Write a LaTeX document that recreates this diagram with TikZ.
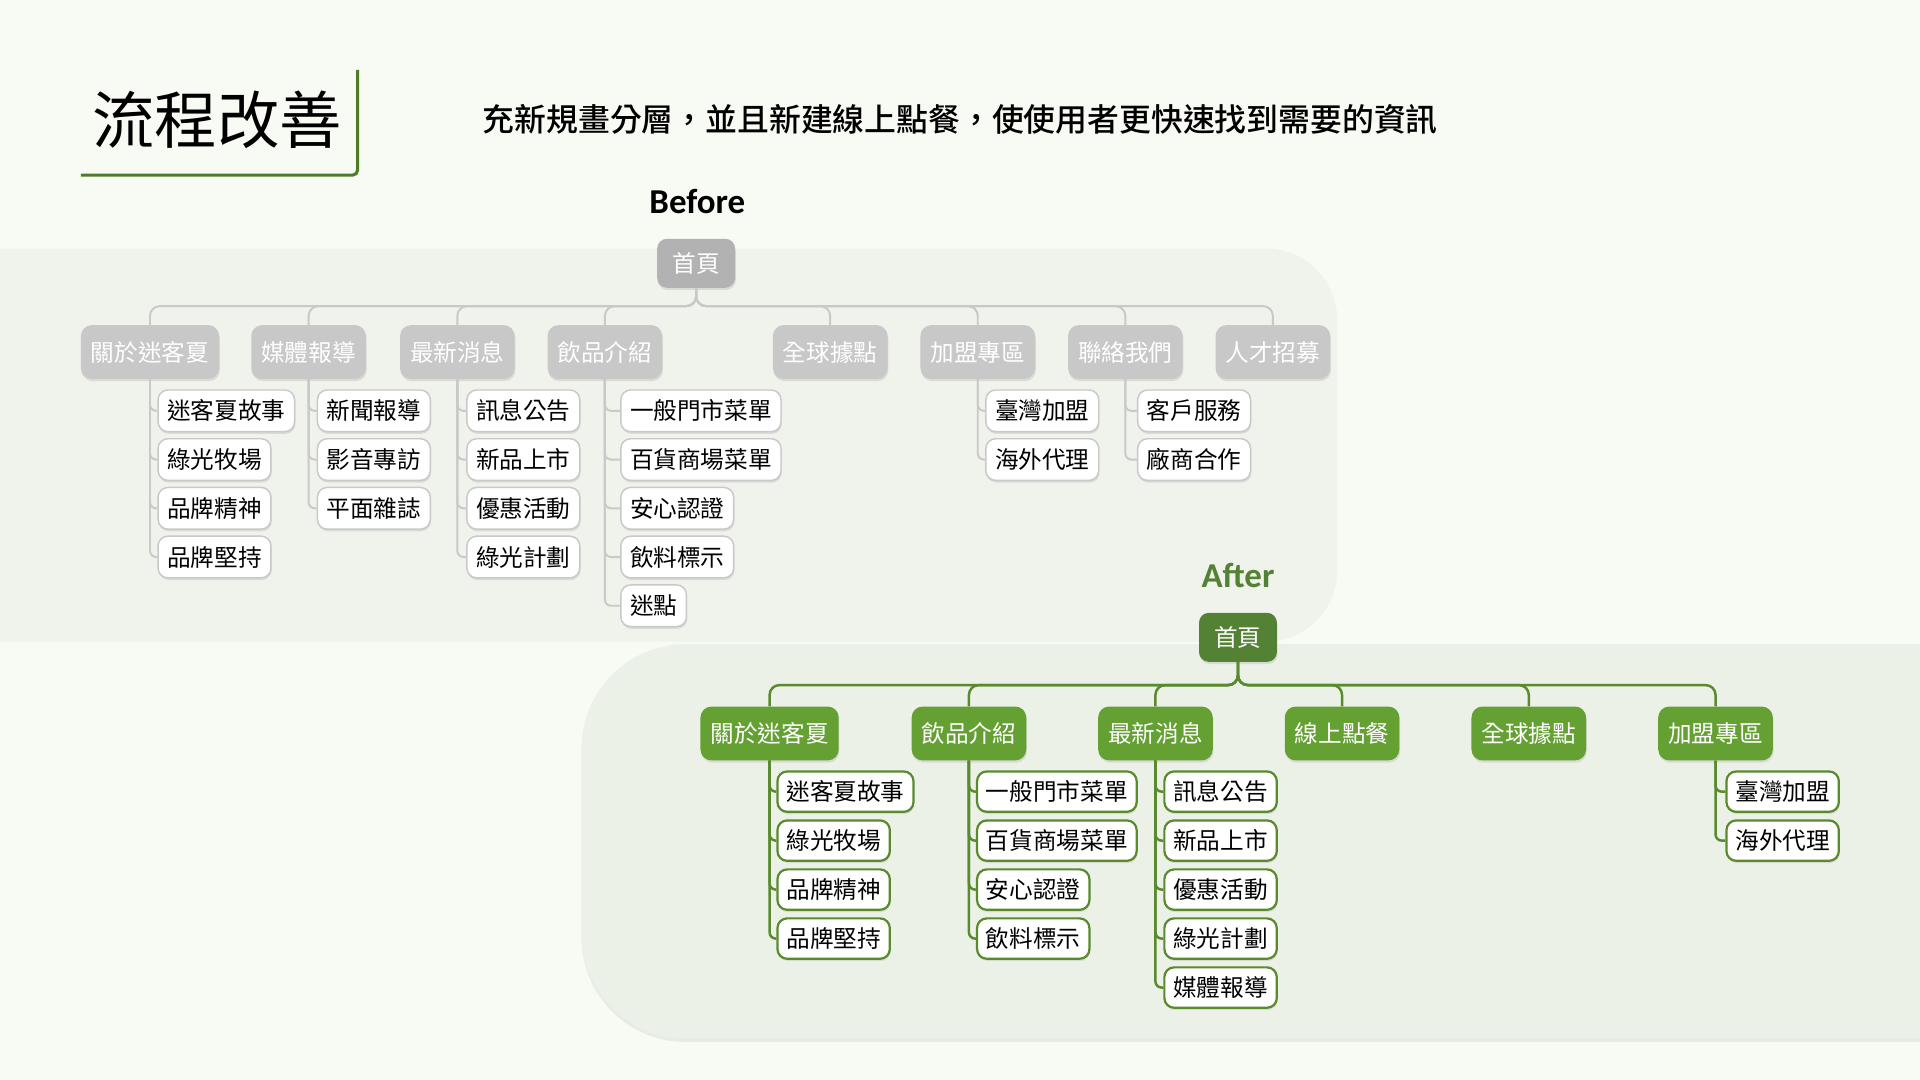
\documentclass[tikz,border=0pt]{standalone}
\usepackage{fontspec}
\setmainfont{Noto Sans CJK TC}
\newfontfamily\calibri{Carlito}
\newfontfamily\subfont{Noto Sans CJK TC Medium}
\usetikzlibrary{shadows}

\definecolor{pagebg}{HTML}{F8FAF4}
\definecolor{oldpanel}{HTML}{F0F2EC}
\definecolor{newpanel}{HTML}{ECF1E7}
\definecolor{oldroot}{HTML}{B2B2B2}
\definecolor{oldhead}{HTML}{C8C8C8}
\definecolor{oldline}{HTML}{C9C9C9}
\definecolor{newroot}{HTML}{548235}
\definecolor{newhead}{HTML}{64A032}
\definecolor{newline}{HTML}{5A8A2E}
\definecolor{titlegreen}{HTML}{4E7D28}

\tikzset{
  cjk/.style={font=\fontsize{19.3}{20}\selectfont, text height=17pt, text depth=2.3pt, inner ysep=0pt},
  boxshade/.style={drop shadow={shadow xshift=0.6pt, shadow yshift=-1.8pt, opacity=0.2}},
  oldroot box/.style={cjk, boxshade, fill=oldroot, text=white, rounded corners=8pt, minimum height=40pt, inner xsep=12.5pt},
  oldhead box/.style={cjk, boxshade, fill=oldhead, text=white, rounded corners=9pt, minimum height=44pt, inner xsep=8.2pt},
  oldleaf/.style={cjk, boxshade, anchor=west, fill=white, draw=oldline, line width=1.2pt, rounded corners=8pt, minimum height=34pt, inner xsep=7.5pt},
  newroot box/.style={cjk, boxshade, fill=newroot, text=white, rounded corners=8pt, minimum height=40pt, inner xsep=12.5pt},
  newhead box/.style={cjk, boxshade, fill=newhead, text=white, rounded corners=9pt, minimum height=44pt, inner xsep=8.2pt},
  newleaf/.style={cjk, boxshade, anchor=west, fill=white, draw=newline, line width=1.8pt, rounded corners=8pt, minimum height=33pt, inner xsep=7.3pt},
  oldlink/.style={draw=oldline, line width=1.6pt, rounded corners=8pt},
  newlink/.style={draw=newline, line width=2pt, rounded corners=8pt},
  leaflink/.style={rounded corners=5pt}
}

\begin{document}
\begin{tikzpicture}[x=1pt, y=-1pt]
\useasboundingbox (0,0) rectangle (1568,882);
\fill[pagebg] (0,0) rectangle (1568,882);

% panels
\fill[oldpanel, rounded corners=58pt] (-100,203) rectangle (1092,524);
\fill[newpanel, rounded corners=85pt, drop shadow={shadow xshift=0pt, shadow yshift=-3pt, opacity=0.12}] (475,526) rectangle (1700,848);

% title
\node[font=\fontsize{51}{52}\selectfont, text height=44.9pt, text depth=6.1pt, inner sep=0pt] (title) at (177.5,98) {流程改善};
\draw[titlegreen, line width=2.5pt, rounded corners=4pt] (66,143) -- (292,143) -- (292,57);
\node[font=\subfont\fontsize{26}{27}\selectfont, text height=22.9pt, text depth=3.1pt, inner sep=0pt, anchor=west] (sub) at (394,97.5) {充新規畫分層，並且新建線上點餐，使使用者更快速找到需要的資訊};

\node[font=\calibri\bfseries\fontsize{28.5}{29}\selectfont, inner sep=0pt, anchor=base] (beforelbl) at (569.5,174) {Before};
\node[font=\calibri\bfseries\fontsize{28.5}{29}\selectfont, text=newroot, inner sep=0pt, anchor=base] (afterlbl) at (1011,480) {After};

% before tree
\coordinate (bbus) at (0,250);
\node[oldroot box] (br) at (568.5,215) {首頁};
\node[oldhead box] (b1) at (122.5,287.5) {關於迷客夏};
\node[oldhead box] (b2) at (252,287.5) {媒體報導};
\node[oldhead box] (b3) at (373.5,287.5) {最新消息};
\node[oldhead box] (b4) at (494,287.5) {飲品介紹};
\node[oldhead box] (b5) at (678,287.5) {全球據點};
\node[oldhead box] (b6) at (798.5,287.5) {加盟專區};
\node[oldhead box] (b7) at (919,287.5) {聯絡我們};
\node[oldhead box] (b8) at (1039.5,287.5) {人才招募};

\draw[oldlink] (br.south) |- (bbus -| b1.north) -- (b1.north);
\draw[oldlink] (br.south) |- (bbus -| b2.north) -- (b2.north);
\draw[oldlink] (br.south) |- (bbus -| b3.north) -- (b3.north);
\draw[oldlink] (br.south) |- (bbus -| b4.north) -- (b4.north);
\draw[oldlink] (br.south) |- (bbus -| b5.north) -- (b5.north);
\draw[oldlink] (br.south) |- (bbus -| b6.north) -- (b6.north);
\draw[oldlink] (br.south) |- (bbus -| b7.north) -- (b7.north);
\draw[oldlink] (br.south) |- (bbus -| b8.north) -- (b8.north);

\draw[oldlink, leaflink] (b1.south) |- (128.5,454.9);
\draw[oldlink, leaflink] (b1.south) |- (128.5,415.1);
\draw[oldlink, leaflink] (b1.south) |- (128.5,375.3);
\draw[oldlink, leaflink] (b1.south) |- (128.5,335.5);
\draw[oldlink, leaflink] (b2.south) |- (258.6,415.1);
\draw[oldlink, leaflink] (b2.south) |- (258.6,375.3);
\draw[oldlink, leaflink] (b2.south) |- (258.6,335.5);
\draw[oldlink, leaflink] (b3.south) |- (380.7,454.9);
\draw[oldlink, leaflink] (b3.south) |- (380.7,415.1);
\draw[oldlink, leaflink] (b3.south) |- (380.7,375.3);
\draw[oldlink, leaflink] (b3.south) |- (380.7,335.5);
\draw[oldlink, leaflink] (b4.south) |- (506.4,494.7);
\draw[oldlink, leaflink] (b4.south) |- (506.4,454.9);
\draw[oldlink, leaflink] (b4.south) |- (506.4,415.1);
\draw[oldlink, leaflink] (b4.south) |- (506.4,375.3);
\draw[oldlink, leaflink] (b4.south) |- (506.4,335.5);
\draw[oldlink, leaflink] (b6.south) |- (804.5,375.3);
\draw[oldlink, leaflink] (b6.south) |- (804.5,335.5);
\draw[oldlink, leaflink] (b7.south) |- (928.5,375.3);
\draw[oldlink, leaflink] (b7.south) |- (928.5,335.5);

\node[oldleaf] (b11) at (128.5,335.5) {迷客夏故事};
\node[oldleaf] (b12) at (128.5,375.3) {綠光牧場};
\node[oldleaf] (b13) at (128.5,415.1) {品牌精神};
\node[oldleaf] (b14) at (128.5,454.9) {品牌堅持};
\node[oldleaf] (b21) at (258.6,335.5) {新聞報導};
\node[oldleaf] (b22) at (258.6,375.3) {影音專訪};
\node[oldleaf] (b23) at (258.6,415.1) {平面雜誌};
\node[oldleaf] (b31) at (380.7,335.5) {訊息公告};
\node[oldleaf] (b32) at (380.7,375.3) {新品上市};
\node[oldleaf] (b33) at (380.7,415.1) {優惠活動};
\node[oldleaf] (b34) at (380.7,454.9) {綠光計劃};
\node[oldleaf] (b41) at (506.4,335.5) {一般門市菜單};
\node[oldleaf] (b42) at (506.4,375.3) {百貨商場菜單};
\node[oldleaf] (b43) at (506.4,415.1) {安心認證};
\node[oldleaf] (b44) at (506.4,454.9) {飲料標示};
\node[oldleaf] (b45) at (506.4,494.7) {迷點};
\node[oldleaf] (b61) at (804.5,335.5) {臺灣加盟};
\node[oldleaf] (b62) at (804.5,375.3) {海外代理};
\node[oldleaf] (b71) at (928.5,335.5) {客戶服務};
\node[oldleaf] (b72) at (928.5,375.3) {廠商合作};

% after tree
\coordinate (abus) at (0,559.5);
\node[newroot box] (ar) at (1011,520.5) {首頁};
\node[newhead box] (a1) at (628.5,599) {關於迷客夏};
\node[newhead box] (a2) at (791.3,599) {飲品介紹};
\node[newhead box] (a3) at (943.6,599) {最新消息};
\node[newhead box] (a4) at (1096,599) {線上點餐};
\node[newhead box] (a5) at (1248.5,599) {全球據點};
\node[newhead box] (a6) at (1401,599) {加盟專區};

\draw[newlink] (ar.south) |- (abus -| a1.north) -- (a1.north);
\draw[newlink] (ar.south) |- (abus -| a2.north) -- (a2.north);
\draw[newlink] (ar.south) |- (abus -| a3.north) -- (a3.north);
\draw[newlink] (ar.south) |- (abus -| a4.north) -- (a4.north);
\draw[newlink] (ar.south) |- (abus -| a5.north) -- (a5.north);
\draw[newlink] (ar.south) |- (abus -| a6.north) -- (a6.north);

\draw[newlink, leaflink] (a1.south) |- (634,766.5);
\draw[newlink, leaflink] (a1.south) |- (634,726.5);
\draw[newlink, leaflink] (a1.south) |- (634,686.5);
\draw[newlink, leaflink] (a1.south) |- (634,646.5);
\draw[newlink, leaflink] (a2.south) |- (797,766.5);
\draw[newlink, leaflink] (a2.south) |- (797,726.5);
\draw[newlink, leaflink] (a2.south) |- (797,686.5);
\draw[newlink, leaflink] (a2.south) |- (797,646.5);
\draw[newlink, leaflink] (a3.south) |- (950,806.5);
\draw[newlink, leaflink] (a3.south) |- (950,766.5);
\draw[newlink, leaflink] (a3.south) |- (950,726.5);
\draw[newlink, leaflink] (a3.south) |- (950,686.5);
\draw[newlink, leaflink] (a3.south) |- (950,646.5);
\draw[newlink, leaflink] (a6.south) |- (1409,686.5);
\draw[newlink, leaflink] (a6.south) |- (1409,646.5);

\node[newleaf] (a11) at (634,646.5) {迷客夏故事};
\node[newleaf] (a12) at (634,686.5) {綠光牧場};
\node[newleaf] (a13) at (634,726.5) {品牌精神};
\node[newleaf] (a14) at (634,766.5) {品牌堅持};
\node[newleaf] (a21) at (797,646.5) {一般門市菜單};
\node[newleaf] (a22) at (797,686.5) {百貨商場菜單};
\node[newleaf] (a23) at (797,726.5) {安心認證};
\node[newleaf] (a24) at (797,766.5) {飲料標示};
\node[newleaf] (a31) at (950,646.5) {訊息公告};
\node[newleaf] (a32) at (950,686.5) {新品上市};
\node[newleaf] (a33) at (950,726.5) {優惠活動};
\node[newleaf] (a34) at (950,766.5) {綠光計劃};
\node[newleaf] (a35) at (950,806.5) {媒體報導};
\node[newleaf] (a61) at (1409,646.5) {臺灣加盟};
\node[newleaf] (a62) at (1409,686.5) {海外代理};
\end{tikzpicture}
\end{document}
